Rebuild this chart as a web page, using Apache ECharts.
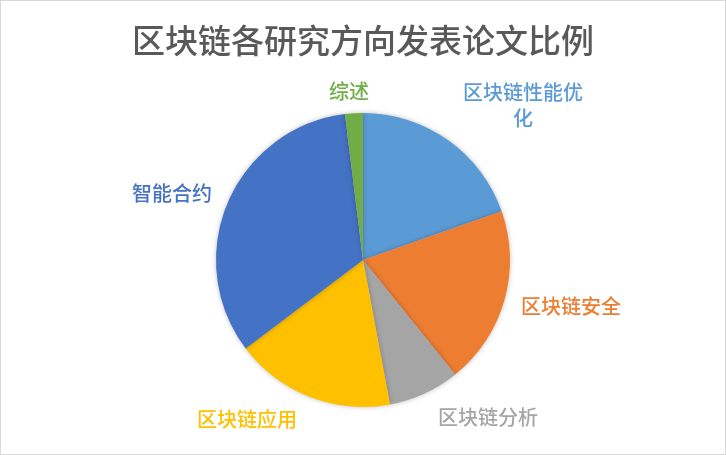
<!DOCTYPE html>
<html>
<head>
<meta charset="utf-8">
<script src="https://cdn.jsdelivr.net/npm/echarts@6/dist/echarts.min.js"></script>
<style>
html,body{margin:0;padding:0;background:#fff;}
#c{width:726px;height:455px;box-sizing:border-box;border:1px solid #d9d9d9;}
</style>
</head>
<body>
<div id="c"></div>
<script>
// Data
const categories = ['区块链性能优化', '区块链安全', '区块链分析', '区块链应用', '智能合约', '综述'];
const values = [10, 10, 4, 9, 17, 1];
const colors = ['#5B9BD5', '#ED7D31', '#A5A5A5', '#FFC000', '#4472C4', '#70AD47'];
const titleText = '区块链各研究方向发表论文比例';

// Label placement (layout only)
const labelPos = [[522, 104], [570, 305], [487, 416], [246, 418], [171, 192], [348, 90]];

const chart = echarts.init(document.getElementById('c'));
chart.setOption({
  backgroundColor: '#fff',
  animation: false,
  title: {
    text: titleText,
    left: 'center',
    top: 18,
    textStyle: {
      fontFamily: 'Noto Sans CJK SC',
      fontSize: 33,
      fontWeight: 500,
      color: '#595959'
    }
  },
  series: [{
    type: 'pie',
    center: [362, 259],
    radius: [0, 147],
    startAngle: 90,
    clockwise: true,
    data: categories.map((n, i) => ({
      name: n,
      value: values[i],
      itemStyle: { color: colors[i] },
      label: { color: colors[i] }
    })),
    itemStyle: {
      borderWidth: 0,
      shadowBlur: 5,
      shadowColor: 'rgba(0,0,0,0.25)'
    },
    label: {
      show: true,
      position: 'outside',
      formatter: '{b}',
      fontFamily: 'Noto Sans CJK SC',
      fontSize: 20,
      fontWeight: 500,
      lineHeight: 26,
      width: 130,
      overflow: 'break',
      align: 'center'
    },
    labelLine: { show: false },
    labelLayout: function (p) {
      const pos = labelPos[p.dataIndex];
      return { x: pos[0], y: pos[1], align: 'center', verticalAlign: 'middle' };
    }
  }]
});
</script>
</body>
</html>
